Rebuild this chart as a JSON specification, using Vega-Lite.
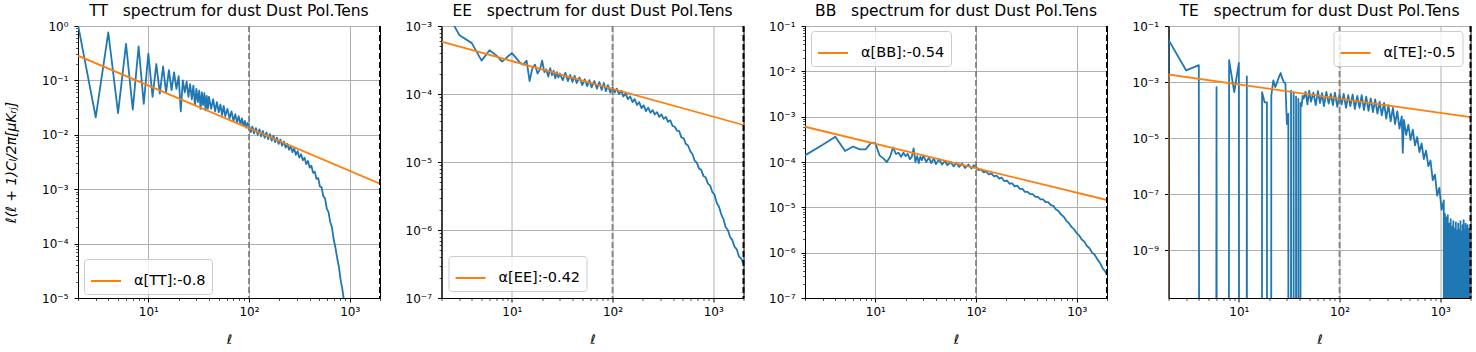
{
"$schema": "https://vega.github.io/schema/vega-lite/v6.json",
"background": "white",
"padding": {"left": 4, "top": 3, "right": 5, "bottom": 2},
"spacing": 61.5,
"bounds": "flush",
"resolve": {"scale": {"color": "independent", "x": "independent", "y": "independent"}, "legend": {"color": "independent"}},
"config": {
 "font": "DejaVu Sans",
 "view": {"stroke": "black", "strokeWidth": 1},
 "axis": {"domainColor": "black", "domainWidth": 1, "tickColor": "black", "tickSize": 4, "tickWidth": 1, "labelColor": "black", "labelFont": "DejaVu Sans", "labelFontSize": 12, "labelPadding": 4, "gridColor": "#b0b0b0", "gridWidth": 1, "titleFont": "DejaVu Sans", "titleFontSize": 13, "titleFontWeight": "normal", "titleColor": "black", "zindex": 1, "labelFlush": false, "labelOverlap": false},
 "axisX": {"titlePadding": 16},
 "axisY": {"labelPadding": 6, "titlePadding": 23, "titleFontSize": 14},
 "legend": {"title": null, "symbolType": "stroke", "symbolStrokeWidth": 2, "symbolSize": 900, "labelFont": "DejaVu Sans", "labelFontSize": 14.5, "labelColor": "black", "padding": 6, "fillColor": "rgba(255,255,255,0.8)", "strokeColor": "#cccccc", "cornerRadius": 3, "labelOffset": 12, "orient": "none"},
 "title": {"font": "DejaVu Sans", "fontSize": 15.5, "fontWeight": "normal", "color": "black", "offset": 1, "anchor": "middle", "frame": "group"}
},
"datasets": {
 "tt": [
  {"l":2,"v":1.05},{"l":3,"v":0.021},{"l":4,"v":0.76},{"l":5,"v":0.025},{"l":6,"v":0.47},{"l":7,"v":0.029},{"l":8,"v":0.42},{"l":9,"v":0.037},{"l":10,"v":0.31},{"l":11,"v":0.05},{"l":12,"v":0.2},{"l":13,"v":0.057},{"l":14,"v":0.18},{"l":15,"v":0.06},{"l":16,"v":0.155},{"l":17,"v":0.066},{"l":18,"v":0.14},{"l":19,"v":0.07},{"l":20,"v":0.12},{"l":21,"v":0.027},{"l":22,"v":0.1},{"l":23,"v":0.06},{"l":24,"v":0.095},{"l":25,"v":0.05},{"l":26,"v":0.085},{"l":27,"v":0.045},{"l":28,"v":0.08},{"l":29,"v":0.035},{"l":30,"v":0.07},{"l":31,"v":0.04},{"l":32,"v":0.065},{"l":33,"v":0.03},{"l":34,"v":0.06},{"l":35,"v":0.035},{"l":36,"v":0.058},{"l":37,"v":0.028},{"l":38,"v":0.052},{"l":39,"v":0.03},{"l":40,"v":0.05},{"l":42,"v":0.03},{"l":44,"v":0.045},{"l":46,"v":0.027},{"l":48,"v":0.04},{"l":50,"v":0.026},{"l":52,"v":0.036},{"l":54,"v":0.023},{"l":56,"v":0.034},{"l":58,"v":0.022},{"l":61,"v":0.03},{"l":64,"v":0.02},{"l":67,"v":0.027},{"l":70,"v":0.018},{"l":73,"v":0.024},{"l":76,"v":0.017},{"l":79,"v":0.022},{"l":82,"v":0.0155},{"l":85,"v":0.02},{"l":88,"v":0.0145},{"l":91,"v":0.018},{"l":94,"v":0.0135},{"l":97,"v":0.0165},
  {"l":100,"v":0.015},{"l":104,"v":0.0112},{"l":108,"v":0.0142},{"l":112,"v":0.0106},{"l":117,"v":0.0133},{"l":122,"v":0.01},{"l":127,"v":0.0126},{"l":132,"v":0.0094},{"l":137,"v":0.0118},{"l":143,"v":0.0088},{"l":149,"v":0.011},{"l":155,"v":0.0083},{"l":161,"v":0.0103},{"l":168,"v":0.0078},{"l":175,"v":0.0096},{"l":182,"v":0.0073},{"l":189,"v":0.0089},{"l":197,"v":0.0068},{"l":205,"v":0.0082},{"l":213,"v":0.0063},{"l":222,"v":0.0075},{"l":231,"v":0.0058},{"l":240,"v":0.0068},{"l":250,"v":0.0053},{"l":260,"v":0.0062},{"l":270,"v":0.0048},{"l":281,"v":0.0056},{"l":292,"v":0.0043},{"l":304,"v":0.005},{"l":316,"v":0.0038},{"l":329,"v":0.0044},{"l":342,"v":0.0034},{"l":356,"v":0.0038},{"l":370,"v":0.0029},{"l":385,"v":0.0033},{"l":400,"v":0.0025},{"l":416,"v":0.0027},{"l":433,"v":0.002},{"l":450,"v":0.0021},{"l":468,"v":0.00155},{"l":487,"v":0.0016},{"l":506,"v":0.00112},{"l":526,"v":0.00108},{"l":547,"v":0.00074},{"l":569,"v":0.00068},{"l":592,"v":0.00044},{"l":616,"v":0.00038},{"l":640,"v":0.00025},{"l":666,"v":0.0002},{"l":693,"v":0.00012},{"l":721,"v":0.000085},{"l":750,"v":0.000055},{"l":780,"v":0.000038},{"l":811,"v":0.000022},{"l":843,"v":0.000015},{"l":877,"v":0.000009},{"l":912,"v":0.000005}
 ],
 "ee": [
  {"l":2,"v":0.0022},{"l":3,"v":0.00074},{"l":4,"v":0.00056},{"l":5,"v":0.00031},{"l":6,"v":0.00044},{"l":7,"v":0.00037},{"l":8,"v":0.0003},{"l":9,"v":0.00035},{"l":10,"v":0.0004},{"l":11,"v":0.00034},{"l":12,"v":0.00029},{"l":13,"v":0.00027},{"l":14,"v":0.00031},{"l":15,"v":0.000155},{"l":16,"v":0.00024},{"l":17,"v":0.00027},{"l":18,"v":0.0002},{"l":19,"v":0.00023},{"l":20,"v":0.00031},{"l":21,"v":0.00021},{"l":22,"v":0.00023},{"l":23,"v":0.00018},{"l":24,"v":0.00024},{"l":25,"v":0.00019},{"l":26,"v":0.00022},{"l":27,"v":0.00017},{"l":28,"v":0.00021},{"l":29,"v":0.000175},{"l":30,"v":0.0002},{"l":32,"v":0.00016},{"l":34,"v":0.000205},{"l":36,"v":0.000155},{"l":38,"v":0.00019},{"l":40,"v":0.00015},{"l":42,"v":0.000185},{"l":44,"v":0.000145},{"l":47,"v":0.000175},{"l":50,"v":0.000135},{"l":53,"v":0.000165},{"l":56,"v":0.00013},{"l":59,"v":0.00016},{"l":62,"v":0.000125},{"l":66,"v":0.000155},{"l":70,"v":0.00012},{"l":74,"v":0.00015},{"l":78,"v":0.000115},{"l":82,"v":0.000145},{"l":86,"v":0.00011},{"l":90,"v":0.000135},{"l":95,"v":0.000105},
  {"l":100,"v":0.000125},{"l":105,"v":0.000105},{"l":110,"v":0.00012},{"l":116,"v":0.0001},{"l":122,"v":0.000112},{"l":128,"v":0.000092},{"l":135,"v":0.000102},{"l":142,"v":0.000084},{"l":150,"v":0.000092},{"l":158,"v":0.000076},{"l":166,"v":0.000084},{"l":175,"v":0.000069},{"l":184,"v":0.000076},{"l":194,"v":0.000062},{"l":204,"v":0.000068},{"l":215,"v":0.000056},{"l":226,"v":0.000063},{"l":238,"v":0.000053},{"l":250,"v":0.000058},{"l":263,"v":0.00005},{"l":277,"v":0.000054},{"l":291,"v":0.000046},{"l":306,"v":0.00005},{"l":322,"v":0.000043},{"l":339,"v":0.000046},{"l":356,"v":0.000039},{"l":375,"v":0.000041},{"l":394,"v":0.000034},{"l":415,"v":0.000033},{"l":436,"v":0.000029},{"l":459,"v":0.0000285},{"l":483,"v":0.000023},{"l":508,"v":0.0000225},{"l":534,"v":0.0000185},{"l":562,"v":0.0000175},{"l":591,"v":0.0000145},{"l":622,"v":0.000013},{"l":654,"v":0.0000105},{"l":688,"v":0.0000098},{"l":724,"v":0.000008},{"l":762,"v":0.0000076},{"l":801,"v":0.0000062},{"l":843,"v":0.0000059},{"l":887,"v":0.0000048},{"l":933,"v":0.0000045},{"l":981,"v":0.0000036},{"l":1032,"v":0.0000033},{"l":1086,"v":0.0000025},{"l":1142,"v":0.0000022},{"l":1202,"v":0.0000017},{"l":1264,"v":0.00000145},{"l":1330,"v":0.0000011},{"l":1399,"v":0.000001},{"l":1472,"v":7.9e-7},{"l":1549,"v":7.1e-7},{"l":1629,"v":5.7e-7},{"l":1714,"v":5.2e-7},{"l":1803,"v":4.1e-7},{"l":1897,"v":3.8e-7},{"l":1996,"v":3.2e-7}
 ],
 "bb": [
  {"l":2,"v":0.00014},{"l":3,"v":0.00024},{"l":4,"v":0.00036},{"l":5,"v":0.000175},{"l":6,"v":0.00022},{"l":7,"v":0.00019},{"l":8,"v":0.00019},{"l":9,"v":0.00026},{"l":10,"v":0.00026},{"l":11,"v":0.00014},{"l":12,"v":0.00012},{"l":13,"v":0.0001},{"l":14,"v":0.00013},{"l":15,"v":0.00021},{"l":16,"v":0.00015},{"l":17,"v":0.00016},{"l":18,"v":0.00013},{"l":19,"v":0.00016},{"l":20,"v":0.000135},{"l":21,"v":0.00015},{"l":22,"v":0.000115},{"l":23,"v":0.00013},{"l":24,"v":0.0002},{"l":25,"v":0.0001},{"l":26,"v":0.000135},{"l":27,"v":0.000095},{"l":28,"v":0.00013},{"l":29,"v":0.00011},{"l":30,"v":0.00014},{"l":32,"v":0.0001},{"l":34,"v":0.000125},{"l":36,"v":0.000095},{"l":38,"v":0.00012},{"l":40,"v":0.00009},{"l":43,"v":0.000115},{"l":46,"v":0.000088},{"l":49,"v":0.000105},{"l":52,"v":0.000085},{"l":56,"v":0.0001},{"l":60,"v":0.00008},{"l":64,"v":0.000096},{"l":68,"v":0.000078},{"l":73,"v":0.000092},{"l":78,"v":0.000074},{"l":84,"v":0.000088},{"l":90,"v":0.000072},{"l":95,"v":0.000085},
  {"l":100,"v":0.000078},{"l":106,"v":0.000066},{"l":112,"v":0.000069},{"l":119,"v":0.000059},{"l":126,"v":0.000062},{"l":134,"v":0.000053},{"l":142,"v":0.000056},{"l":151,"v":0.000048},{"l":160,"v":0.00005},{"l":170,"v":0.000043},{"l":180,"v":0.000045},{"l":191,"v":0.000038},{"l":203,"v":0.000039},{"l":215,"v":0.000033},{"l":228,"v":0.000034},{"l":242,"v":0.000029},{"l":257,"v":0.00003},{"l":272,"v":0.0000255},{"l":289,"v":0.0000255},{"l":306,"v":0.000022},{"l":325,"v":0.000022},{"l":345,"v":0.0000195},{"l":366,"v":0.0000195},{"l":388,"v":0.000017},{"l":412,"v":0.000017},{"l":437,"v":0.000015},{"l":463,"v":0.000015},{"l":491,"v":0.000013},{"l":521,"v":0.000013},{"l":553,"v":0.0000112},{"l":587,"v":0.0000108},{"l":622,"v":0.000009},{"l":660,"v":0.0000083},{"l":700,"v":0.0000069},{"l":743,"v":0.0000062},{"l":788,"v":0.0000051},{"l":836,"v":0.0000045},{"l":887,"v":0.0000037},{"l":941,"v":0.0000033},{"l":998,"v":0.0000027},{"l":1059,"v":0.0000024},{"l":1123,"v":0.00000195},{"l":1191,"v":0.00000175},{"l":1264,"v":0.0000014},{"l":1341,"v":0.00000125},{"l":1422,"v":0.000001},{"l":1509,"v":9e-7},{"l":1601,"v":7.2e-7},{"l":1698,"v":6e-7},{"l":1802,"v":4.6e-7},{"l":1911,"v":3.9e-7},{"l":1998,"v":3.2e-7}
 ],
 "te": [
  {"l":1,"v":1e-300},{"l":2,"v":0.032},{"l":3,"v":0.0026},{"l":4,"v":0.004},{"l":5,"v":1e-300},{"l":6,"v":0.00066},{"l":7,"v":1e-300},{"l":8,"v":0.006},{"l":9,"v":0.00044},{"l":10,"v":0.0048},{"l":11,"v":1e-300},{"l":12,"v":0.0016},{"l":13,"v":1e-300},{"l":14,"v":1e-300},{"l":15,"v":1e-300},{"l":16,"v":1e-300},{"l":17,"v":0.00044},{"l":18,"v":0.00019},{"l":19,"v":0.00019},{"l":20,"v":1e-300},{"l":21,"v":0.00033},{"l":22,"v":0.00115},{"l":23,"v":0.00066},{"l":24,"v":0.001},{"l":25,"v":0.0015},{"l":26,"v":0.0021},{"l":27,"v":0.00135},{"l":28,"v":0.001},{"l":29,"v":0.0009},{"l":30,"v":0.000032},{"l":31,"v":0.000073},{"l":32,"v":1e-300},{"l":33,"v":0.0005},{"l":34,"v":1e-300},{"l":35,"v":0.0004},{"l":36,"v":1e-300},{"l":37,"v":0.0003},{"l":38,"v":1e-300},{"l":39,"v":0.00025},{"l":40,"v":1e-300},{"l":41,"v":0.00018},{"l":42,"v":0.00014},{"l":43,"v":0.00032},{"l":44,"v":0.00026},
  {"l":46,"v":0.00045},{"l":48,"v":0.00016},{"l":50,"v":0.0005},{"l":52,"v":0.0002},{"l":55,"v":0.00042},{"l":58,"v":0.00015},{"l":61,"v":0.00048},{"l":64,"v":0.00018},{"l":67,"v":0.0004},{"l":70,"v":0.00014},{"l":74,"v":0.00045},{"l":78,"v":0.00017},{"l":82,"v":0.00038},{"l":86,"v":0.00015},{"l":90,"v":0.00042},{"l":95,"v":0.00013},{"l":100,"v":0.00036},{"l":105,"v":0.00016},{"l":110,"v":0.00038},{"l":116,"v":0.00012},{"l":122,"v":0.00034},{"l":128,"v":0.00014},{"l":135,"v":0.00036},{"l":142,"v":0.00011},{"l":150,"v":0.00032},{"l":158,"v":0.00012},{"l":166,"v":0.00034},{"l":175,"v":0.0001},{"l":184,"v":0.0003},{"l":194,"v":0.000095},{"l":204,"v":0.00026},{"l":215,"v":0.000085},{"l":226,"v":0.00024},{"l":238,"v":0.000075},{"l":250,"v":0.0002},{"l":263,"v":0.000065},{"l":277,"v":0.00018},{"l":291,"v":0.00005},{"l":306,"v":0.00015},{"l":322,"v":0.00004},{"l":339,"v":0.00012},{"l":356,"v":0.000032},{"l":375,"v":0.00009},{"l":394,"v":0.000022},{"l":415,"v":0.00006},{"l":425,"v":0.000003},{"l":436,"v":0.000045},{"l":459,"v":0.000013},{"l":483,"v":0.00003},{"l":508,"v":0.0000085},{"l":534,"v":0.00002},{"l":562,"v":0.0000055},{"l":591,"v":0.000011},{"l":622,"v":0.0000032},{"l":654,"v":0.0000065},{"l":688,"v":0.0000018},{"l":724,"v":0.0000036},{"l":762,"v":0.000001},{"l":801,"v":0.0000016},{"l":843,"v":3.2e-7},{"l":887,"v":5e-7},{"l":933,"v":9e-8},{"l":981,"v":1.7e-7},{"l":1032,"v":2.8e-8},{"l":1086,"v":6e-8},
  {"l":1100,"v":1e-300},{"l":1115,"v":2e-8},{"l":1130,"v":1e-300},{"l":1150,"v":1.5e-8},{"l":1170,"v":1e-300},{"l":1190,"v":1.8e-8},{"l":1210,"v":1e-300},{"l":1230,"v":9e-9},{"l":1250,"v":1e-300},{"l":1270,"v":1.3e-8},{"l":1290,"v":1e-300},{"l":1310,"v":7e-9},{"l":1330,"v":1e-300},{"l":1350,"v":1.1e-8},{"l":1370,"v":1e-300},{"l":1390,"v":6e-9},{"l":1410,"v":1e-300},{"l":1430,"v":1e-8},{"l":1450,"v":1e-300},{"l":1470,"v":5e-9},{"l":1490,"v":1e-300},{"l":1510,"v":9e-9},{"l":1530,"v":1e-300},{"l":1550,"v":5.5e-9},{"l":1570,"v":1e-300},{"l":1590,"v":1.1e-8},{"l":1610,"v":1e-300},{"l":1630,"v":4.5e-9},{"l":1650,"v":1e-300},{"l":1670,"v":8e-9},{"l":1690,"v":1e-300},{"l":1710,"v":1.2e-8},{"l":1730,"v":1e-300},{"l":1750,"v":5e-9},{"l":1770,"v":1e-300},{"l":1790,"v":9e-9},{"l":1810,"v":1e-300},{"l":1830,"v":6e-9},{"l":1850,"v":1e-300},{"l":1870,"v":8e-9},{"l":1890,"v":1e-300},{"l":1910,"v":4.5e-9},{"l":1930,"v":1e-300},{"l":1950,"v":6e-9},{"l":1970,"v":1e-300},{"l":1990,"v":4e-9},{"l":2000,"v":1e-300}
 ],
 "fit": [
  {"p":"TT","l":2,"v":0.285,"s":"α[TT]:-0.8"},{"p":"TT","l":2000,"v":0.00126,"s":"α[TT]:-0.8"},
  {"p":"EE","l":2,"v":0.00059,"s":"α[EE]:-0.42"},{"p":"EE","l":2000,"v":0.000035,"s":"α[EE]:-0.42"},
  {"p":"BB","l":2,"v":0.0006,"s":"α[BB]:-0.54"},{"p":"BB","l":2000,"v":0.0000145,"s":"α[BB]:-0.54"},
  {"p":"TE","l":1,"v":1e-300,"s":"α[TE]:-0.5"},{"p":"TE","l":2,"v":0.00185,"s":"α[TE]:-0.5"},{"p":"TE","l":2000,"v":0.000056,"s":"α[TE]:-0.5"}
 ],
 "vl": [{"l":100,"k":"split"},{"l":2000,"k":"lmax"}]
},
"hconcat": [
 {
  "title": {"text": "TT\u00a0\u00a0\u00a0spectrum for dust Dust Pol.Tens"},
  "width": 302, "height": 272,
  "resolve": {"axis": {"x": "independent", "y": "independent"}},
  "layer": [
   {"data": {"name": "tt"}, "mark": {"type": "line", "color": "#1f77b4", "strokeWidth": 1.8, "clip": true, "strokeJoin": "round"},
    "encoding": {
     "x": {"field": "l", "type": "quantitative", "scale": {"type": "log", "domain": [2, 2000], "nice": false}, "axis": {"orient": "bottom", "values": [10, 100, 1000], "grid": true, "title": "ℓ", "titleFontStyle": "italic", "labelExpr": "'10' + ['⁻¹¹','⁻¹⁰','⁻⁹','⁻⁸','⁻⁷','⁻⁶','⁻⁵','⁻⁴','⁻³','⁻²','⁻¹','⁰','¹','²','³'][round(log(datum.value)/LN10)+11]"}},
     "y": {"field": "v", "type": "quantitative", "scale": {"type": "log", "domain": [0.00001, 1], "nice": false}, "axis": {"orient": "left", "values": [0.00001, 0.0001, 0.001, 0.01, 0.1, 1], "grid": true, "title": "ℓ(ℓ + 1)Cₗ/2π[μKᵣⱼ]", "titleFontStyle": "italic", "labelExpr": "'10' + ['⁻¹¹','⁻¹⁰','⁻⁹','⁻⁸','⁻⁷','⁻⁶','⁻⁵','⁻⁴','⁻³','⁻²','⁻¹','⁰','¹','²','³'][round(log(datum.value)/LN10)+11]"}}
    }},
   {"data": {"name": "fit"}, "transform": [{"filter": "datum.p === 'TT'"}], "mark": {"type": "line", "strokeWidth": 1.8, "clip": true},
    "encoding": {
     "x": {"field": "l", "type": "quantitative", "axis": null},
     "y": {"field": "v", "type": "quantitative", "axis": {"orient": "left", "values": [2e-5,3e-5,4e-5,5e-5,6e-5,7e-5,8e-5,9e-5,2e-4,3e-4,4e-4,5e-4,6e-4,7e-4,8e-4,9e-4,0.002,0.003,0.004,0.005,0.006,0.007,0.008,0.009,0.02,0.03,0.04,0.05,0.06,0.07,0.08,0.09,0.2,0.3,0.4,0.5,0.6,0.7,0.8,0.9], "labels": false, "grid": false, "domain": false, "tickSize": 2.4, "tickWidth": 0.7, "title": null}},
     "color": {"field": "s", "type": "nominal", "scale": {"range": ["#ff7f0e"]}, "legend": {"legendX": 6, "legendY": 233}}
    }},
   {"data": {"name": "vl"}, "transform": [{"filter": "datum.k === 'split'"}], "mark": {"type": "rule", "color": "#808080", "strokeWidth": 1.8, "strokeDash": [6, 3]},
    "encoding": {"x": {"field": "l", "type": "quantitative", "axis": {"orient": "bottom", "values": [2,3,4,5,6,7,8,9,20,30,40,50,60,70,80,90,200,300,400,500,600,700,800,900,2000], "labels": false, "grid": false, "domain": false, "tickSize": 2.4, "tickWidth": 0.7, "title": null}}}},
   {"data": {"name": "vl"}, "transform": [{"filter": "datum.k === 'lmax'"}], "mark": {"type": "rule", "color": "black", "strokeWidth": 2, "strokeDash": [6, 3]},
    "encoding": {"x": {"field": "l", "type": "quantitative", "axis": null}}}
  ]
 },
 {
  "title": {"text": "EE\u00a0\u00a0\u00a0spectrum for dust Dust Pol.Tens"},
  "width": 302, "height": 272,
  "resolve": {"axis": {"x": "independent", "y": "independent"}},
  "layer": [
   {"data": {"name": "ee"}, "mark": {"type": "line", "color": "#1f77b4", "strokeWidth": 1.8, "clip": true, "strokeJoin": "round"},
    "encoding": {
     "x": {"field": "l", "type": "quantitative", "scale": {"type": "log", "domain": [2, 2000], "nice": false}, "axis": {"orient": "bottom", "values": [10, 100, 1000], "grid": true, "title": "ℓ", "titleFontStyle": "italic", "labelExpr": "'10' + ['⁻¹¹','⁻¹⁰','⁻⁹','⁻⁸','⁻⁷','⁻⁶','⁻⁵','⁻⁴','⁻³','⁻²','⁻¹','⁰','¹','²','³'][round(log(datum.value)/LN10)+11]"}},
     "y": {"field": "v", "type": "quantitative", "scale": {"type": "log", "domain": [1e-7, 0.001], "nice": false}, "axis": {"orient": "left", "values": [1e-7, 1e-6, 1e-5, 1e-4, 1e-3], "grid": true, "title": null, "labelExpr": "'10' + ['⁻¹¹','⁻¹⁰','⁻⁹','⁻⁸','⁻⁷','⁻⁶','⁻⁵','⁻⁴','⁻³','⁻²','⁻¹','⁰','¹','²','³'][round(log(datum.value)/LN10)+11]"}}
    }},
   {"data": {"name": "fit"}, "transform": [{"filter": "datum.p === 'EE'"}], "mark": {"type": "line", "strokeWidth": 1.8, "clip": true},
    "encoding": {
     "x": {"field": "l", "type": "quantitative", "axis": null},
     "y": {"field": "v", "type": "quantitative", "axis": {"orient": "left", "values": [2e-7,3e-7,4e-7,5e-7,6e-7,7e-7,8e-7,9e-7,2e-6,3e-6,4e-6,5e-6,6e-6,7e-6,8e-6,9e-6,2e-5,3e-5,4e-5,5e-5,6e-5,7e-5,8e-5,9e-5,2e-4,3e-4,4e-4,5e-4,6e-4,7e-4,8e-4,9e-4], "labels": false, "grid": false, "domain": false, "tickSize": 2.4, "tickWidth": 0.7, "title": null}},
     "color": {"field": "s", "type": "nominal", "scale": {"range": ["#ff7f0e"]}, "legend": {"legendX": 7, "legendY": 230}}
    }},
   {"data": {"name": "vl"}, "transform": [{"filter": "datum.k === 'split'"}], "mark": {"type": "rule", "color": "#808080", "strokeWidth": 1.8, "strokeDash": [6, 3]},
    "encoding": {"x": {"field": "l", "type": "quantitative", "axis": {"orient": "bottom", "values": [2,3,4,5,6,7,8,9,20,30,40,50,60,70,80,90,200,300,400,500,600,700,800,900,2000], "labels": false, "grid": false, "domain": false, "tickSize": 2.4, "tickWidth": 0.7, "title": null}}}},
   {"data": {"name": "vl"}, "transform": [{"filter": "datum.k === 'lmax'"}], "mark": {"type": "rule", "color": "black", "strokeWidth": 2, "strokeDash": [6, 3]},
    "encoding": {"x": {"field": "l", "type": "quantitative", "axis": null}}}
  ]
 },
 {
  "title": {"text": "BB\u00a0\u00a0\u00a0spectrum for dust Dust Pol.Tens"},
  "width": 302, "height": 272,
  "resolve": {"axis": {"x": "independent", "y": "independent"}},
  "layer": [
   {"data": {"name": "bb"}, "mark": {"type": "line", "color": "#1f77b4", "strokeWidth": 1.8, "clip": true, "strokeJoin": "round"},
    "encoding": {
     "x": {"field": "l", "type": "quantitative", "scale": {"type": "log", "domain": [2, 2000], "nice": false}, "axis": {"orient": "bottom", "values": [10, 100, 1000], "grid": true, "title": "ℓ", "titleFontStyle": "italic", "labelExpr": "'10' + ['⁻¹¹','⁻¹⁰','⁻⁹','⁻⁸','⁻⁷','⁻⁶','⁻⁵','⁻⁴','⁻³','⁻²','⁻¹','⁰','¹','²','³'][round(log(datum.value)/LN10)+11]"}},
     "y": {"field": "v", "type": "quantitative", "scale": {"type": "log", "domain": [1e-7, 0.1], "nice": false}, "axis": {"orient": "left", "values": [1e-7, 1e-6, 1e-5, 1e-4, 1e-3, 1e-2, 1e-1], "grid": true, "title": null, "labelExpr": "'10' + ['⁻¹¹','⁻¹⁰','⁻⁹','⁻⁸','⁻⁷','⁻⁶','⁻⁵','⁻⁴','⁻³','⁻²','⁻¹','⁰','¹','²','³'][round(log(datum.value)/LN10)+11]"}}
    }},
   {"data": {"name": "fit"}, "transform": [{"filter": "datum.p === 'BB'"}], "mark": {"type": "line", "strokeWidth": 1.8, "clip": true},
    "encoding": {
     "x": {"field": "l", "type": "quantitative", "axis": null},
     "y": {"field": "v", "type": "quantitative", "axis": {"orient": "left", "values": [2e-7,3e-7,4e-7,5e-7,6e-7,7e-7,8e-7,9e-7,2e-6,3e-6,4e-6,5e-6,6e-6,7e-6,8e-6,9e-6,2e-5,3e-5,4e-5,5e-5,6e-5,7e-5,8e-5,9e-5,2e-4,3e-4,4e-4,5e-4,6e-4,7e-4,8e-4,9e-4,0.002,0.003,0.004,0.005,0.006,0.007,0.008,0.009,0.02,0.03,0.04,0.05,0.06,0.07,0.08,0.09], "labels": false, "grid": false, "domain": false, "tickSize": 2.4, "tickWidth": 0.7, "title": null}},
     "color": {"field": "s", "type": "nominal", "scale": {"range": ["#ff7f0e"]}, "legend": {"legendX": 6, "legendY": 5}}
    }},
   {"data": {"name": "vl"}, "transform": [{"filter": "datum.k === 'split'"}], "mark": {"type": "rule", "color": "#808080", "strokeWidth": 1.8, "strokeDash": [6, 3]},
    "encoding": {"x": {"field": "l", "type": "quantitative", "axis": {"orient": "bottom", "values": [2,3,4,5,6,7,8,9,20,30,40,50,60,70,80,90,200,300,400,500,600,700,800,900,2000], "labels": false, "grid": false, "domain": false, "tickSize": 2.4, "tickWidth": 0.7, "title": null}}}},
   {"data": {"name": "vl"}, "transform": [{"filter": "datum.k === 'lmax'"}], "mark": {"type": "rule", "color": "black", "strokeWidth": 2, "strokeDash": [6, 3]},
    "encoding": {"x": {"field": "l", "type": "quantitative", "axis": null}}}
  ]
 },
 {
  "title": {"text": "TE\u00a0\u00a0\u00a0spectrum for dust Dust Pol.Tens"},
  "width": 302, "height": 272,
  "resolve": {"axis": {"x": "independent", "y": "independent"}},
  "layer": [
   {"data": {"name": "te"}, "mark": {"type": "line", "color": "#1f77b4", "strokeWidth": 1.8, "clip": true, "strokeJoin": "round"},
    "encoding": {
     "x": {"field": "l", "type": "quantitative", "scale": {"type": "log", "domain": [2, 2000], "nice": false}, "axis": {"orient": "bottom", "values": [10, 100, 1000], "grid": true, "title": "ℓ", "titleFontStyle": "italic", "labelExpr": "'10' + ['⁻¹¹','⁻¹⁰','⁻⁹','⁻⁸','⁻⁷','⁻⁶','⁻⁵','⁻⁴','⁻³','⁻²','⁻¹','⁰','¹','²','³'][round(log(datum.value)/LN10)+11]"}},
     "y": {"field": "v", "type": "quantitative", "scale": {"type": "log", "domain": [2e-11, 0.1], "nice": false}, "axis": {"orient": "left", "values": [1e-9, 1e-7, 1e-5, 1e-3, 1e-1], "grid": true, "title": null, "labelExpr": "'10' + ['⁻¹¹','⁻¹⁰','⁻⁹','⁻⁸','⁻⁷','⁻⁶','⁻⁵','⁻⁴','⁻³','⁻²','⁻¹','⁰','¹','²','³'][round(log(datum.value)/LN10)+11]"}}
    }},
   {"data": {"name": "fit"}, "transform": [{"filter": "datum.p === 'TE'"}], "mark": {"type": "line", "strokeWidth": 1.8, "clip": true},
    "encoding": {
     "x": {"field": "l", "type": "quantitative", "axis": null},
     "y": {"field": "v", "type": "quantitative", "axis": null},
     "color": {"field": "s", "type": "nominal", "scale": {"range": ["#ff7f0e"]}, "legend": {"legendX": 165, "legendY": 5}}
    }},
   {"data": {"name": "vl"}, "transform": [{"filter": "datum.k === 'split'"}], "mark": {"type": "rule", "color": "#808080", "strokeWidth": 1.8, "strokeDash": [6, 3]},
    "encoding": {"x": {"field": "l", "type": "quantitative", "axis": {"orient": "bottom", "values": [2,3,4,5,6,7,8,9,20,30,40,50,60,70,80,90,200,300,400,500,600,700,800,900,2000], "labels": false, "grid": false, "domain": false, "tickSize": 2.4, "tickWidth": 0.7, "title": null}}}},
   {"data": {"name": "vl"}, "transform": [{"filter": "datum.k === 'lmax'"}], "mark": {"type": "rule", "color": "black", "strokeWidth": 2, "strokeDash": [6, 3]},
    "encoding": {"x": {"field": "l", "type": "quantitative", "axis": null}}}
  ]
 }
]
}
